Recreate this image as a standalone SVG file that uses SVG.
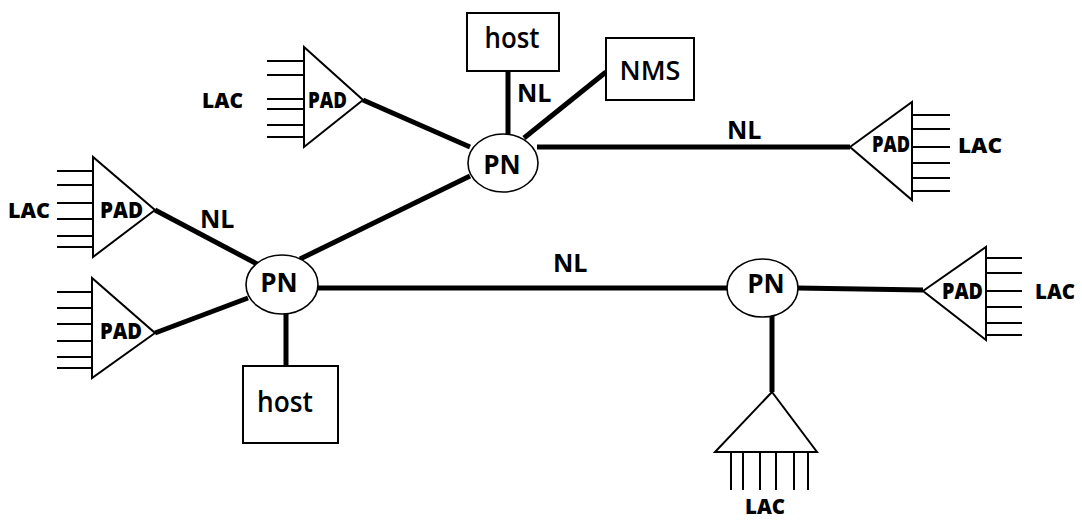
<svg xmlns="http://www.w3.org/2000/svg" width="1082" height="520" viewBox="0 0 1082 520">
<style>
text{font-family:"Open Sans","Noto Sans","DejaVu Sans",sans-serif;fill:#000}
.pn{font-size:26px;font-weight:700;text-anchor:middle}
.nl{font-size:25px;font-weight:700}
.pad{font-size:22px;font-weight:800}
.lac{font-size:21px;font-weight:800}
.host{font-size:28px;font-weight:600;text-anchor:middle}
.nms{font-size:27px;font-weight:600;text-anchor:middle}
.tri{fill:#fff;stroke:#000;stroke-width:2;stroke-linejoin:miter}
.box{fill:#fff;stroke:#000;stroke-width:2}
.ell{fill:#fff;stroke:#000;stroke-width:1.6}
.lac-l{stroke:#000;stroke-width:2;fill:none}
.conn{stroke:#000;stroke-width:5;stroke-linecap:butt;fill:none}
</style>
<rect width="1082" height="520" fill="#fff"/>
<g id="connectors">
<line class="conn" x1="363" y1="100" x2="470" y2="147"/>
<line class="conn" x1="508" y1="71" x2="508" y2="135"/>
<line class="conn" x1="524" y1="138" x2="606" y2="72"/>
<line class="conn" x1="537" y1="147" x2="850" y2="147"/>
<line class="conn" x1="300" y1="259" x2="470" y2="176"/>
<line class="conn" x1="155" y1="210" x2="259" y2="265"/>
<line class="conn" x1="155" y1="333" x2="248" y2="298"/>
<line class="conn" x1="286" y1="313" x2="286" y2="366"/>
<line class="conn" x1="317" y1="288" x2="728" y2="288"/>
<line class="conn" x1="797" y1="288" x2="923" y2="290"/>
<line class="conn" x1="772" y1="316" x2="772" y2="392"/>
</g>
<g id="labels-nl">
<text class="nl" x="517" y="102">NL</text>
<text class="nl" x="727" y="139">NL</text>
<text class="nl" x="200" y="228">NL</text>
<text class="nl" x="553" y="272">NL</text>
</g>
<g id="host-top">
<rect class="box" x="467" y="13" width="92" height="58"/>
<text class="host" x="512" y="48" textLength="55" lengthAdjust="spacingAndGlyphs">host</text>
</g>
<g id="nms">
<rect class="box" x="606" y="38" width="88" height="62"/>
<text class="nms" x="650" y="80">NMS</text>
</g>
<g id="host-bottom">
<rect class="box" x="243" y="366" width="95" height="77"/>
<text class="host" x="285" y="412" textLength="56" lengthAdjust="spacingAndGlyphs">host</text>
</g>
<g id="pn-top">
<ellipse class="ell" cx="503" cy="163" rx="35" ry="29"/>
<text class="pn" x="502" y="174">PN</text>
</g>
<g id="pn-left">
<ellipse class="ell" cx="282" cy="284.5" rx="36" ry="29.5"/>
<text class="pn" x="279" y="292">PN</text>
</g>
<g id="pn-right">
<ellipse class="ell" cx="762.5" cy="288" rx="35.5" ry="29"/>
<text class="pn" x="766" y="293">PN</text>
</g>
<g id="pad-top-left">
<path class="lac-l" d="M267 61H304M267 75H304M267 99H304M267 109H304M267 125H304M267 137H304"/>
<polygon class="tri" points="304,47 304,147 363,100"/>
<text class="pad" x="308" y="108" textLength="39" lengthAdjust="spacingAndGlyphs">PAD</text>
<text class="lac" x="202" y="108" textLength="41" lengthAdjust="spacingAndGlyphs">LAC</text>
</g>
<g id="pad-upper-left">
<path class="lac-l" d="M57 171H93M57 185H93M57 203H93M57 219H93M57 236H93M57 247H93"/>
<polygon class="tri" points="93,157 93,257 155,210"/>
<text class="pad" x="100" y="218" textLength="43" lengthAdjust="spacingAndGlyphs">PAD</text>
<text class="lac" x="8" y="218" textLength="42" lengthAdjust="spacingAndGlyphs">LAC</text>
</g>
<g id="pad-lower-left">
<path class="lac-l" d="M57 292H92M57 308H92M57 324H92M57 341H92M57 357H92M57 368H92"/>
<polygon class="tri" points="92,278 92,378 155,333"/>
<text class="pad" x="100" y="339" textLength="42" lengthAdjust="spacingAndGlyphs">PAD</text>
</g>
<g id="pad-upper-right">
<path class="lac-l" d="M912 115H950M912 129H950M912 147H950M912 163H950M912 178H950M912 191H950"/>
<polygon class="tri" points="912,102 912,200 850,147"/>
<text class="pad" x="872" y="152" textLength="38" lengthAdjust="spacingAndGlyphs">PAD</text>
<text class="lac" x="958" y="153" textLength="44" lengthAdjust="spacingAndGlyphs">LAC</text>
</g>
<g id="pad-lower-right">
<path class="lac-l" d="M986 258H1022M986 273H1022M986 291H1022M986 307H1022M986 323H1022M986 335H1022"/>
<polygon class="tri" points="986,247 986,340 923,291"/>
<text class="pad" x="942" y="299" textLength="41" lengthAdjust="spacingAndGlyphs">PAD</text>
<text class="lac" x="1035" y="299" textLength="40" lengthAdjust="spacingAndGlyphs">LAC</text>
</g>
<g id="lac-bottom">
<path class="lac-l" d="M731 452V490M743 452V490M760 452V490M776 452V490M794 452V490M808 452V490"/>
<polygon class="tri" points="772,392 715,452 817,452"/>
<text class="lac" x="745" y="514" textLength="40" lengthAdjust="spacingAndGlyphs">LAC</text>
</g>
</svg>
